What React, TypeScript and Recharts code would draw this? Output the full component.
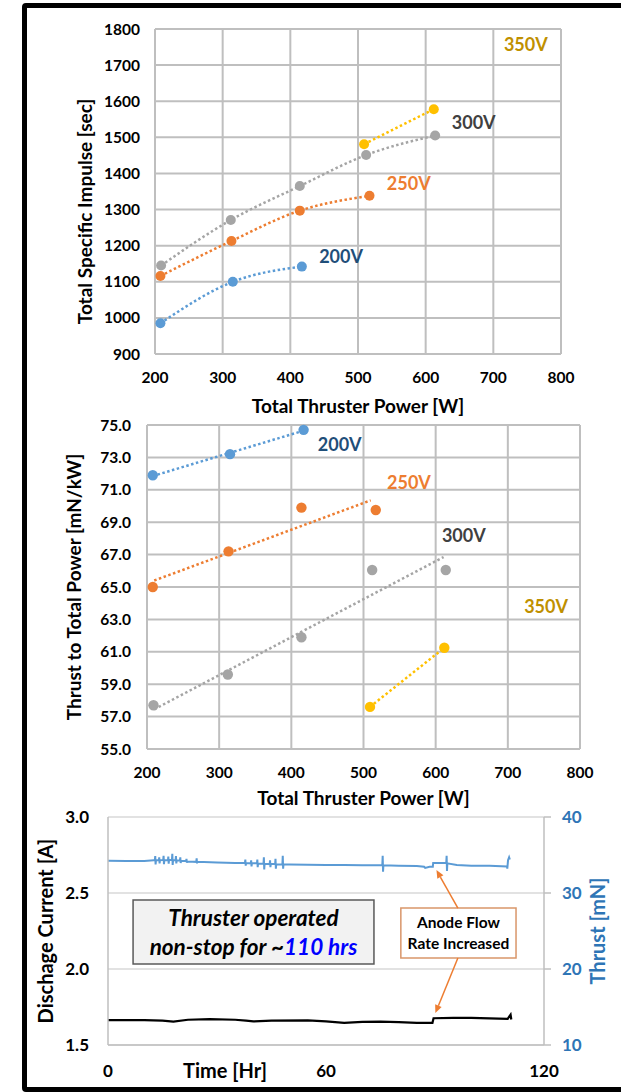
import {
  ComposedChart,
  Line,
  Scatter,
  XAxis,
  YAxis,
  ZAxis,
  CartesianGrid,
  ReferenceDot,
  ReferenceArea,
  ReferenceLine,
} from "recharts"

const FONT = "Lato, 'Open Sans', sans-serif"

// thruster power [W] for each discharge voltage
const power200 = [208, 315, 417]
const power250 = [208, 313, 414, 517]
const power300 = [209, 312, 414, 512, 614]
const power350 = [509, 612]

// total specific impulse [sec]
const isp200 = [985, 1100, 1142]
const isp250 = [1116, 1213, 1297, 1338]
const isp300 = [1145, 1271, 1365, 1451, 1505]
const isp350 = [1481, 1578]

// thrust to total power [mN/kW]
const ttp200 = [71.9, 73.2, 74.7]
const ttp250 = [65.0, 67.2, 69.9, 69.75]
const ttp300 = [57.7, 59.6, 61.9, 66.05, 66.05]
const ttp350 = [57.6, 61.25]

// dotted trend lines on the T/P plot (end points)
const trendPower200 = [208, 417]
const trendTtp200 = [71.85, 74.65]
const trendPower250 = [210, 510]
const trendTtp250 = [65.4, 70.35]
const trendPower300 = [210, 611]
const trendTtp300 = [57.45, 66.85]
const trendPower350 = [509, 612]
const trendTtp350 = [57.6, 61.25]

// endurance run: thrust [mN] vs time [hr]
const thrustTime = [
  0, 5, 10, 12.6, 12.9, 13.0, 13.1, 13.2, 14.0, 14.1, 14.2, 14.3, 15.2, 15.3, 15.4, 15.5, 16.5, 16.6, 16.7, 16.8,
  17.6, 17.7, 17.8, 17.9, 18.6, 18.7, 18.8, 18.9, 19.8, 19.9, 20.0, 20.1, 21.5, 21.6, 21.7, 21.8, 24.3, 24.4, 24.5, 24.6,
  30, 35, 37.7, 37.8, 37.9, 38.0, 39.3, 39.4, 39.5, 39.6, 41.0, 41.1, 41.2, 41.3, 42.8, 42.9, 43.0, 43.1,
  44.5, 44.6, 44.7, 44.8, 46.0, 46.1, 46.2, 46.3, 48.0, 48.1, 48.2, 48.3, 50, 55, 60, 65, 70,
  75.5, 75.6, 75.7, 75.8, 80, 85, 87, 87.3, 88.5, 89.4, 89.5, 92, 93.1, 93.2, 93.3, 93.4, 96, 100, 105,
  109.8, 109.9, 110.1, 110.4, 110.6,
]
const thrustVal = [
  34.25, 34.2, 34.2, 34.3, 34.3, 34.85, 33.75, 34.3, 34.3, 34.7, 33.9, 34.3, 34.35, 34.9, 33.8, 34.3, 34.3, 34.8, 33.85, 34.35,
  34.35, 35.15, 33.7, 34.3, 34.3, 34.85, 33.9, 34.3, 34.25, 34.7, 33.95, 34.2, 34.2, 34.5, 34.0, 34.15, 34.1, 34.55, 33.9, 34.1,
  34.0, 33.95, 33.95, 34.4, 33.6, 33.95, 33.9, 34.3, 33.5, 33.9, 33.9, 34.4, 33.4, 33.85, 33.85, 34.7, 33.1, 33.85,
  33.8, 34.3, 33.4, 33.8, 33.8, 34.5, 33.2, 33.75, 33.75, 34.9, 33.2, 33.75, 33.75, 33.72, 33.7, 33.68, 33.65,
  33.65, 34.9, 32.8, 33.65, 33.6, 33.55, 33.45, 33.3, 33.45, 33.45, 33.95, 33.95, 33.95, 34.9, 32.9, 33.9, 33.7, 33.6, 33.6,
  33.5, 33.2, 34.3, 34.7, 34.4,
]
// endurance run: discharge current [A] vs time [hr]
const currentTime = [
  0, 10, 15, 18, 22, 28, 35, 38, 40, 45, 55, 60, 65, 70, 75, 80, 85, 89.3, 89.6, 95, 100, 105, 110, 110.8, 111,
]
const currentVal = [
  1.664, 1.664, 1.660, 1.654, 1.666, 1.670, 1.666, 1.660, 1.655, 1.660, 1.662, 1.655, 1.646, 1.652, 1.654,
  1.650, 1.645, 1.646, 1.676, 1.678, 1.679, 1.675, 1.672, 1.70, 1.668,
]

const powerTicks = [200, 300, 400, 500, 600, 700, 800]
const ispTicks = [900, 1000, 1100, 1200, 1300, 1400, 1500, 1600, 1700, 1800]
const ttpTicks = [55, 57, 59, 61, 63, 65, 67, 69, 71, 73, 75]
const timeTicks = [0, 60, 120]
const currentTicks = [1.5, 2.0, 2.5, 3.0]
const thrustTicks = [10, 20, 30, 40]

const zip = (xs: number[], ys: number[]) => xs.map((x, i) => ({ x, y: ys[i] }))
const zipT = (ts: number[], vs: number[]) => ts.map((t, i) => ({ t, v: vs[i] }))

const series = [
  { name: "200V", color: "#5B9BD5", labelColor: "#1F4E79", isp: zip(power200, isp200), ttp: zip(power200, ttp200), trend: zip(trendPower200, trendTtp200) },
  { name: "250V", color: "#ED7D31", labelColor: "#ED7D31", isp: zip(power250, isp250), ttp: zip(power250, ttp250), trend: zip(trendPower250, trendTtp250) },
  { name: "300V", color: "#A5A5A5", labelColor: "#404040", isp: zip(power300, isp300), ttp: zip(power300, ttp300), trend: zip(trendPower300, trendTtp300) },
  { name: "350V", color: "#FFC000", labelColor: "#BF9000", isp: zip(power350, isp350), ttp: zip(power350, ttp350), trend: zip(trendPower350, trendTtp350) },
]

// where the voltage tags sit, in data units
const ispTagX = [475, 575, 671, 748]
const ispTagY = [1171, 1371, 1540, 1758]
const ttpTagX = [467, 563, 639, 753]
const ttpTagY = [73.8, 71.45, 68.15, 63.8]

const tick = { fill: "#000", fontSize: 15.5, fontWeight: 700, fontFamily: FONT }
const title = { fill: "#000", fontSize: 19, fontWeight: 700, fontFamily: FONT }
const tag = { fontSize: 18, fontWeight: 700, fontFamily: FONT }

function IspChart() {
  return (
    <ComposedChart width={621} height={420} margin={{ top: 29, right: 60, bottom: 0, left: 60 }}>
      <CartesianGrid stroke="#BFBFBF" strokeWidth={2} />
      <XAxis
        type="number"
        dataKey="x"
        domain={[200, 800]}
        ticks={powerTicks}
        axisLine={false}
        tickLine={false}
        tickMargin={12}
        height={66}
        tick={tick}
        label={{ value: "Total Thruster Power [W]", position: "insideBottom", offset: 7.5, ...title }}
      />
      <YAxis
        type="number"
        dataKey="y"
        domain={[900, 1800]}
        ticks={ispTicks}
        axisLine={false}
        tickLine={false}
        tickMargin={9}
        width={95}
        tick={tick}
        label={{ value: "Total Specific Impulse [sec]", angle: -90, position: "insideLeft", offset: 25, dy: 20, textAnchor: "middle", ...title }}
      />
      {series.map((s) => (
        <Line
          key={s.name}
          data={s.isp}
          dataKey="y"
          type="monotone"
          stroke={s.color}
          strokeWidth={2.5}
          strokeDasharray="2.5 2.5"
          dot={{ r: 5, fill: s.color, stroke: "none", strokeDasharray: "0" }}
          isAnimationActive={false}
        />
      ))}
      {series.map((s, i) => (
        <ReferenceDot
          key={s.name}
          x={ispTagX[i]}
          y={ispTagY[i]}
          r={1}
          fill="none"
          stroke="none"
          label={{ value: s.name, position: "center", fill: s.labelColor, ...tag }}
        />
      ))}
    </ComposedChart>
  )
}

function TtpChart() {
  return (
    <ComposedChart width={621} height={410} margin={{ top: 25, right: 41, bottom: 0, left: 50 }}>
      <CartesianGrid stroke="#BFBFBF" strokeWidth={2} />
      <XAxis
        type="number"
        dataKey="x"
        domain={[200, 800]}
        ticks={powerTicks}
        axisLine={false}
        tickLine={false}
        tickMargin={12}
        height={61}
        tick={tick}
        label={{ value: "Total Thruster Power [W]", position: "insideBottom", offset: 5.5, ...title }}
      />
      <YAxis
        type="number"
        dataKey="y"
        domain={[55, 75]}
        ticks={ttpTicks}
        tickFormatter={(v) => v.toFixed(1)}
        axisLine={false}
        tickLine={false}
        tickMargin={10}
        width={97}
        tick={tick}
        label={{ value: "Thrust to Total Power [mN/kW]", angle: -90, position: "insideLeft", offset: 24, textAnchor: "middle", ...title }}
      />
      <ZAxis range={[85, 85]} />
      {series.map((s) => (
        <Line
          key={s.name + "t"}
          data={s.trend}
          dataKey="y"
          type="linear"
          stroke={s.color}
          strokeWidth={2.5}
          strokeDasharray="2.5 2.5"
          dot={false}
          isAnimationActive={false}
        />
      ))}
      {series.map((s) => (
        <Scatter key={s.name} data={s.ttp} fill={s.color} shape="circle" isAnimationActive={false} />
      ))}
      {series.map((s, i) => (
        <ReferenceDot
          key={s.name}
          x={ttpTagX[i]}
          y={ttpTagY[i]}
          r={1}
          fill="none"
          stroke="none"
          label={{ value: s.name, position: "center", fill: s.labelColor, ...tag }}
        />
      ))}
    </ComposedChart>
  )
}

function Arrow(props: any) {
  const { x1, y1, x2, y2 } = props
  const dx = x2 - x1
  const dy = y2 - y1
  const len = Math.sqrt(dx * dx + dy * dy)
  const ux = dx / len
  const uy = dy / len
  const bx = x2 - ux * 8
  const by = y2 - uy * 8
  const pts = `${x2},${y2} ${bx - uy * 3.5},${by + ux * 3.5} ${bx + uy * 3.5},${by - ux * 3.5}`
  return (
    <g>
      <line x1={x1} y1={y1} x2={bx} y2={by} stroke="#ED7D31" strokeWidth={1.5} />
      <polygon points={pts} fill="#ED7D31" />
    </g>
  )
}

function RunNote(props: any) {
  const { x, y, width } = props.viewBox
  const cx = x + width / 2
  const st = { fill: "#000", fontSize: 22.5, fontWeight: 700, fontStyle: "italic", fontFamily: FONT, textAnchor: "middle" as const }
  return (
    <g>
      <text x={cx} y={y + 26} {...st}>Thruster operated</text>
      <text x={cx} y={y + 55} {...st}>
        non-stop for ~<tspan fill="#0000FF">110 hrs</tspan>
      </text>
    </g>
  )
}

function FlowNote(props: any) {
  const { x, y, width } = props.viewBox
  const cx = x + width / 2
  const st = { fill: "#000", fontSize: 15.5, fontWeight: 700, fontFamily: FONT, textAnchor: "middle" as const }
  return (
    <g>
      <text x={cx} y={y + 20} {...st}>Anode Flow</text>
      <text x={cx} y={y + 41} {...st}>Rate Increased</text>
    </g>
  )
}

function RunChart() {
  const big = { fill: "#000", fontSize: 17, fontWeight: 700, fontFamily: FONT }
  const blue = { fill: "#2E75B6", fontSize: 17, fontWeight: 700, fontFamily: FONT }
  return (
    <ComposedChart width={621} height={302} margin={{ top: 27, right: 10, bottom: 0, left: 20 }}>
      <CartesianGrid yAxisId="I" stroke="#D9D9D9" strokeWidth={1.5} vertical={false} horizontalValues={currentTicks} />
      <XAxis
        type="number"
        dataKey="t"
        domain={[0, 120]}
        ticks={timeTicks}
        axisLine={{ stroke: "#BFBFBF", strokeWidth: 1.5 }}
        tickLine={false}
        tickMargin={14}
        height={47}
        tick={big}
        label={{ value: "Time [Hr]", position: "insideBottom", offset: 14, dx: -101, fill: "#000", fontSize: 20, fontWeight: 700, fontFamily: FONT }}
      />
      <YAxis
        yAxisId="I"
        type="number"
        dataKey="v"
        domain={[1.5, 3.0]}
        ticks={currentTicks}
        tickFormatter={(v) => v.toFixed(1)}
        axisLine={{ stroke: "#BFBFBF", strokeWidth: 1.5 }}
        tickLine={false}
        tickMargin={13}
        width={88}
        tick={big}
        label={{ value: "Dischage Current [A]", angle: -90, position: "insideLeft", offset: 26, textAnchor: "middle", fill: "#000", fontSize: 20, fontWeight: 700, fontFamily: FONT }}
      />
      <YAxis
        yAxisId="T"
        orientation="right"
        type="number"
        dataKey="v"
        domain={[10, 40]}
        ticks={thrustTicks}
        axisLine={{ stroke: "#BFBFBF", strokeWidth: 1.5 }}
        tickLine={{ stroke: "#BFBFBF", strokeWidth: 1.5 }}
        tickSize={7}
        tickMargin={11}
        width={67}
        tick={blue}
        label={{ value: "Thrust [mN]", angle: -90, position: "insideRight", offset: 13, textAnchor: "middle", fill: "#2E75B6", fontSize: 20, fontWeight: 700, fontFamily: FONT }}
      />
      <ReferenceArea yAxisId="I" x1={6.9} x2={73.2} y1={2.033} y2={2.454} fill="#F2F2F2" fillOpacity={1} stroke="#595959" strokeWidth={1.5} label={{ content: RunNote }} />
      <ReferenceArea yAxisId="I" x1={80.6} x2={112.3} y1={2.072} y2={2.401} fill="#FFFFFF" fillOpacity={1} stroke="#D9966A" strokeWidth={1.5} label={{ content: FlowNote }} />
      <ReferenceLine yAxisId="I" segment={[{ x: 96.3, y: 2.401 }, { x: 90.4, y: 2.651 }]} shape={Arrow} />
      <ReferenceLine yAxisId="I" segment={[{ x: 96.3, y: 2.072 }, { x: 90.1, y: 1.71 }]} shape={Arrow} />
      <Line yAxisId="T" data={zipT(thrustTime, thrustVal)} dataKey="v" type="linear" stroke="#5B9BD5" strokeWidth={2} dot={false} isAnimationActive={false} />
      <Line yAxisId="I" data={zipT(currentTime, currentVal)} dataKey="v" type="linear" stroke="#000" strokeWidth={2.2} dot={false} isAnimationActive={false} />
    </ComposedChart>
  )
}

export default function App() {
  return (
    <div style={{ position: "absolute", left: 0, top: 0, width: 621, height: 1092, overflow: "hidden", background: "#fff" }}>
      <div
        style={{
          position: "absolute",
          left: 22,
          top: 3,
          width: 700,
          height: 1089,
          border: "5px solid #000",
          borderRadius: 4,
          boxSizing: "border-box",
        }}
      />
      <div style={{ position: "absolute", left: 0, top: 0 }}>
        <IspChart />
      </div>
      <div style={{ position: "absolute", left: 0, top: 400 }}>
        <TtpChart />
      </div>
      <div style={{ position: "absolute", left: 0, top: 790 }}>
        <RunChart />
      </div>
    </div>
  )
}
